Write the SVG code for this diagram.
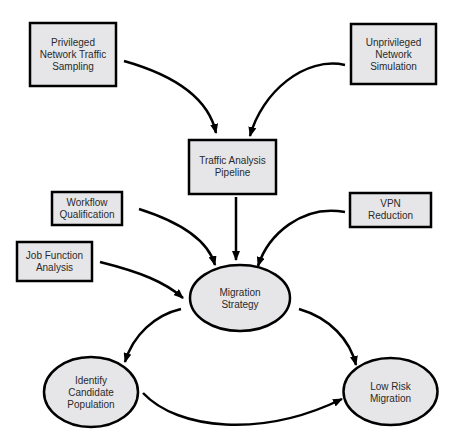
<svg xmlns="http://www.w3.org/2000/svg" width="453" height="442" viewBox="0 0 453 442">
<defs>
<marker id="ah" markerUnits="userSpaceOnUse" markerWidth="10" markerHeight="8" refX="9" refY="4" orient="auto">
<path d="M0,0 L10,4 L0,8 z" fill="#000"/>
</marker>
<style>
.n{fill:#e6e6e8;stroke:#000;stroke-width:2.5}
.t{font-family:"Liberation Sans",Arial,sans-serif;font-size:10px;fill:#2a2a2a;text-anchor:middle}
.c{fill:none;stroke:#000;stroke-width:2.5;marker-end:url(#ah)}
</style>
</defs>
<rect width="453" height="442" fill="#fff"/>
<g id="connectors">
<path class="c" d="M124,61 C170,74 208,95 216,133"/>
<path class="c" d="M345,65 C305,56 262,92 250,136"/>
<path class="c" d="M236,197 L236,260"/>
<path class="c" d="M139,209 C180,222 208,240 215,265"/>
<path class="c" d="M100,262 C140,272 165,282 183,298"/>
<path class="c" d="M345,212 C302,204 268,235 258,266"/>
<path class="c" d="M181,309 C155,315 133,335 125,362"/>
<path class="c" d="M299,309 C330,318 350,340 356,365"/>
<path class="c" d="M143,393 C178,430 262,438 342,399"/>
</g>
<g id="privileged">
<rect class="n" x="30" y="23" width="86" height="63"/>
<text class="t" x="73" y="46">Privileged</text>
<text class="t" x="73" y="58">Network Traffic</text>
<text class="t" x="73" y="70">Sampling</text>
</g>
<g id="unprivileged">
<rect class="n" x="351" y="24" width="85" height="60"/>
<text class="t" x="393.5" y="46">Unprivileged</text>
<text class="t" x="393.5" y="58">Network</text>
<text class="t" x="393.5" y="70">Simulation</text>
</g>
<g id="traffic">
<rect class="n" x="189" y="140" width="87" height="54"/>
<text class="t" x="232.5" y="164">Traffic Analysis</text>
<text class="t" x="232.5" y="176">Pipeline</text>
</g>
<g id="workflow">
<rect class="n" x="52" y="192" width="70" height="33"/>
<text class="t" x="87" y="206">Workflow</text>
<text class="t" x="87" y="218">Qualification</text>
</g>
<g id="jobfunction">
<rect class="n" x="17" y="242" width="75" height="39"/>
<text class="t" x="54.5" y="259">Job Function</text>
<text class="t" x="54.5" y="271">Analysis</text>
</g>
<g id="vpn">
<rect class="n" x="350" y="193" width="81" height="34"/>
<text class="t" x="390.5" y="207">VPN</text>
<text class="t" x="390.5" y="219">Reduction</text>
</g>
<g id="strategy">
<ellipse class="n" cx="240" cy="298" rx="50" ry="33"/>
<text class="t" x="240" y="296">Migration</text>
<text class="t" x="240" y="308">Strategy</text>
</g>
<g id="candidate">
<ellipse class="n" cx="91" cy="392" rx="47" ry="35"/>
<text class="t" x="91" y="384">Identify</text>
<text class="t" x="91" y="396">Candidate</text>
<text class="t" x="91" y="408">Population</text>
</g>
<g id="lowrisk">
<ellipse class="n" cx="390.5" cy="391.5" rx="47" ry="33.5"/>
<text class="t" x="390.5" y="390">Low Risk</text>
<text class="t" x="390.5" y="402">Migration</text>
</g>
</svg>
